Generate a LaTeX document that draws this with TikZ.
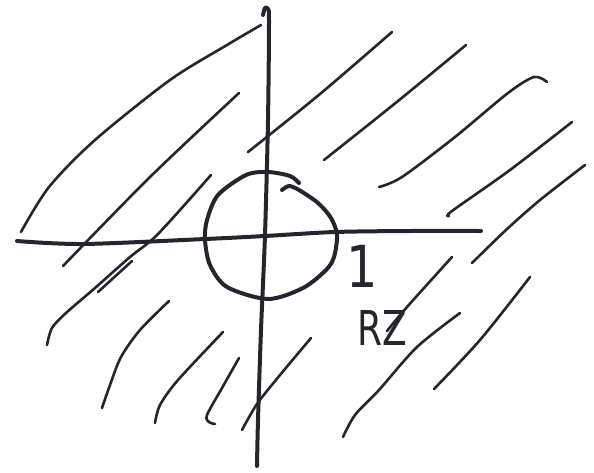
\documentclass[tikz,border=0pt]{standalone}
\usepackage{graphicx}
\usepackage{fontspec}
\newfontfamily\handfont{DejaVu Sans}
\definecolor{ink}{RGB}{36,38,43}
\tikzset{
  hatch/.style={ink, line width=2.6pt, line cap=round, line join=round},
  axisline/.style={ink, line width=4pt, line cap=round, line join=round},
  lbl/.style={ink, inner sep=0pt, font=\handfont}
}
\begin{document}
\begin{tikzpicture}[x=1pt,y=-1pt]
\useasboundingbox (0,0) rectangle (594,472);
% axes
\draw[axisline] plot[smooth] coordinates {(17,241) (83,244) (205,239) (265,236) (335,232) (410,231) (481,231)};
\draw[axisline] plot[smooth] coordinates {(263,15) (265,8) (268,9) (269,22) (268,120) (265,235) (261,330) (258,420) (257,466)};
% unit circle
\draw[axisline] plot[smooth] coordinates {(282,190) (289,186) (299,190) (318,203) (331,218) (337,235) (334,257) (326,270) (303,288) (268,299) (227,287) (210,265) (205,240) (207,220) (218,195) (246,175) (268,172) (290,176) (299,183)};
% hatching upper left
\draw[hatch] plot[smooth] coordinates {(21,232) (49,187) (95,140) (170,80) (227,45) (261,25)};
\draw[hatch] plot[smooth] coordinates {(63,266) (150,177) (239,93)};
\draw[hatch] plot[smooth] coordinates {(47,345) (52,328) (66,313) (95,288) (130,257) (158,234) (211,175)};
\draw[hatch] (98,292) -- (132,261);
% hatching upper right
\draw[hatch] plot[smooth] coordinates {(248,152) (320,94) (392,32)};
\draw[hatch] plot[smooth] coordinates {(324,160) (398,101) (466,45)};
\draw[hatch] plot[smooth] coordinates {(379,187) (402,177) (455,137) (508,93) (534,77) (547,82)};
\draw[hatch] plot[smooth] coordinates {(449,216) (452,211) (510,170) (572,122)};
\draw[hatch] plot[smooth] coordinates {(472,263) (506,230) (540,200) (585,165)};
% hatching lower right
\draw[hatch] plot[smooth] coordinates {(452,257) (407,307) (387,331)};
\draw[hatch] plot[smooth] coordinates {(460,313) (417,347) (379,390) (355,415) (343,437)};
\draw[hatch] plot[smooth] coordinates {(530,277) (480,340) (434,389)};
% hatching lower left
\draw[hatch] plot[smooth] coordinates {(169,301) (140,330) (121,357) (110,385) (102,408)};
\draw[hatch] plot[smooth] coordinates {(223,332) (178,380) (160,405) (155,423)};
\draw[hatch] plot[smooth] coordinates {(239,358) (222,388) (207,415) (209,422) (215,424)};
\draw[hatch] plot[smooth] coordinates {(311,338) (280,375) (257,404) (242,430)};
% labels
\node[lbl, anchor=base] (one) at (362,287) {\fontsize{58}{58}\selectfont\scalebox{0.85}[1]{1}};
\node[lbl, anchor=base west] (rz) at (357,345) {\fontsize{48}{48}\selectfont\scalebox{0.75}[1]{RZ}};
\end{tikzpicture}
\end{document}
